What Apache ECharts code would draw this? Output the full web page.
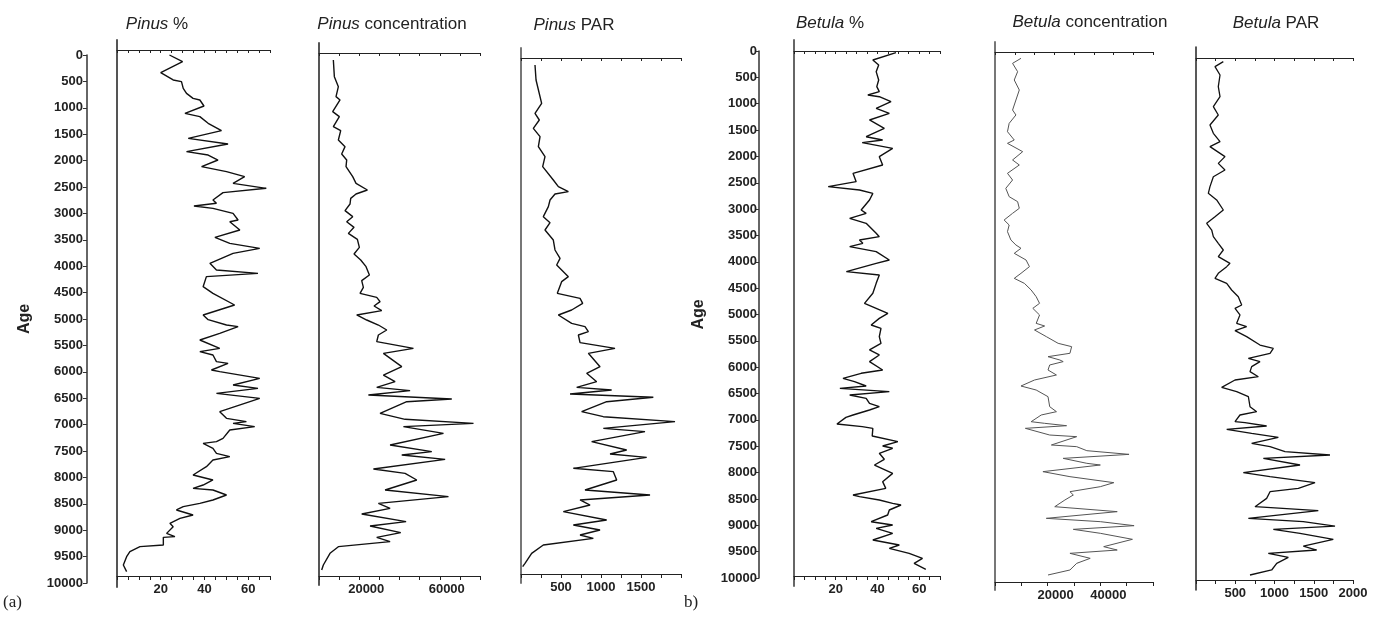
<!DOCTYPE html>
<html>
<head>
<meta charset="utf-8">
<script src="https://cdn.jsdelivr.net/npm/echarts@6/dist/echarts.min.js"></script>
<style>
  html, body { margin: 0; padding: 0; background: #fff; }
  #chart { width: 1383px; height: 617px; }
</style>
</head>
<body>
<div id="chart"></div>
<script>
// [age, value] pairs
const pinusPct = [[0,24],[126,30],[335,20],[473,25.7],[505,29.5],[631,30.3],[726,31.8],[821,34.8],[852,37.9],[966,39.8],[1105,31.1],[1168,37.9],[1294,41.7],[1433,47.8],[1578,32.6],[1686,50.8],[1831,31.8],[1894,41.7],[1989,46.2],[2115,38.7],[2210,50.1],[2304,58.4],[2431,53.1],[2525,68.3],[2607,48.5],[2746,43.9],[2809,45.5],[2860,35.2],[2904,43.9],[2999,53.1],[3125,55.4],[3157,51.6],[3314,56.2],[3453,44.8],[3567,51.6],[3662,65.3],[3756,53.1],[3946,42.5],[4072,45.5],[4135,64.5],[4198,40.9],[4388,39.4],[4514,43.9],[4735,53.8],[4924,39.4],[5013,41.7],[5114,50.1],[5145,55.4],[5271,47],[5398,37.9],[5556,47],[5619,37.9],[5682,43.9],[5808,45.5],[5840,50.8],[5966,43.2],[5997,47],[6124,65.3],[6250,53.1],[6313,64.5],[6408,45.5],[6503,65.3],[6755,47],[6881,50.1],[6944,59.2],[6976,53.1],[7039,63],[7102,51.6],[7260,48.5],[7323,45.5],[7355,39.4],[7449,43.9],[7544,45.5],[7607,51.6],[7670,43.9],[7797,40.9],[7955,34.8],[8049,43.9],[8144,39.4],[8207,34.8],[8239,43.9],[8333,50.1],[8428,43.9],[8491,37.9],[8554,30.3],[8617,27.2],[8712,34.8],[8775,28.8],[8870,24.2],[8933,25.7],[9060,22.7],[9122,26.5],[9135,21.2],[9280,21.2],[9312,10.5],[9407,5.9],[9501,4.4],[9659,2.9],[9785,4.4]];

const pinusConc = [[95,7130],[410,7630],[600,9620],[789,8460],[852,10450],[1073,6800],[1168,10110],[1357,7130],[1433,10780],[1610,9620],[1736,12930],[1875,11270],[1989,13760],[2115,13430],[2304,16750],[2431,18400],[2557,24040],[2633,18400],[2715,15750],[2822,15420],[2948,12930],[3062,16750],[3157,13760],[3264,17410],[3378,14590],[3491,19070],[3643,20060],[3769,17410],[3883,20730],[4009,23380],[4167,25040],[4274,21220],[4400,22050],[4514,20390],[4590,28680],[4672,30340],[4754,27360],[4842,31170],[4924,18740],[5019,23710],[5114,29510],[5208,33660],[5303,29510],[5429,28680],[5556,46920],[5650,32000],[5903,41120],[6061,32000],[6187,37800],[6294,28680],[6357,45260],[6439,24540],[6515,65990],[6566,43600],[6787,30340],[6900,42780],[6976,76770],[7039,41950],[7166,61840],[7386,35320],[7512,56040],[7576,41120],[7658,62670],[7841,27030],[7923,42780],[8049,48580],[8239,32830],[8365,64330],[8491,29510],[8586,35320],[8693,21220],[8838,43270],[8920,25370],[9047,40620],[9135,28680],[9217,35320],[9312,9620],[9438,5470],[9659,2160],[9754,1330]];

const pinusPar = [[189,175],[473,188],[915,258],[1105,175],[1231,229],[1389,154],[1547,238],[1736,217],[1926,300],[2115,271],[2367,404],[2494,467],[2588,592],[2633,425],[2746,363],[2872,342],[3062,279],[3176,363],[3314,300],[3504,404],[3693,425],[3851,488],[3977,446],[4198,592],[4293,508],[4514,454],[4609,738],[4703,771],[4830,633],[4924,467],[5082,633],[5145,800],[5240,842],[5303,717],[5448,738],[5556,1175],[5650,842],[5903,988],[6029,821],[6187,946],[6294,696],[6345,1133],[6420,613],[6483,1654],[6566,1071],[6755,758],[6850,1029],[6944,1925],[7071,1029],[7134,1550],[7323,883],[7481,1321],[7557,1113],[7620,1571],[7828,654],[7891,1154],[8049,1196],[8239,800],[8333,1613],[8428,738],[8523,863],[8649,529],[8807,1071],[8902,654],[8996,988],[9091,738],[9154,904],[9280,279],[9438,133],[9627,50],[9691,21]];

const betulaPct = [[32,48.9],[171,37.8],[266,40.6],[392,39.4],[550,40.6],[677,39.7],[772,40.9],[835,35.4],[867,40.9],[961,46.5],[1088,39.4],[1183,45.7],[1309,36.2],[1467,43.3],[1626,34.6],[1689,42.5],[1739,32.7],[1847,47.3],[2005,40.9],[2163,42.5],[2321,28.3],[2479,29.8],[2574,16.4],[2638,31.4],[2701,37.8],[2827,36.2],[3017,32.2],[3080,34.6],[3175,26.7],[3270,34.6],[3460,39.4],[3523,40.9],[3586,31.4],[3650,33],[3713,26.7],[3808,39.4],[3966,45.7],[4029,39.4],[4187,25.1],[4250,40.9],[4409,39.4],[4598,37.8],[4788,33.8],[4978,45],[5073,40.9],[5199,37],[5262,41.7],[5420,40.9],[5547,41.7],[5673,36.2],[5768,40.9],[5894,36.2],[6053,42.5],[6116,32.2],[6211,23.5],[6274,29],[6357,34.6],[6401,22],[6464,45.7],[6527,26.7],[6591,34.6],[6686,36.2],[6749,40.9],[6812,36.2],[6907,28.3],[6952,24.9],[7078,20.6],[7128,32.7],[7160,37.8],[7305,37.5],[7413,49.8],[7495,42.5],[7539,47.3],[7634,40.9],[7748,43.3],[7856,38.6],[8014,47.3],[8172,42.5],[8299,44],[8425,28.3],[8457,31.4],[8520,40.9],[8583,47.3],[8615,51.3],[8710,45.7],[8805,44.9],[8932,37],[8995,47.3],[9058,39.4],[9153,47.3],[9279,37.8],[9374,50.5],[9437,45.7],[9532,55.2],[9627,61.6],[9722,57.6],[9835,63.2]];

const betulaConc = [[139,9870],[234,6670],[392,8590],[550,7310],[740,9230],[930,7950],[1120,6670],[1214,7950],[1373,5380],[1531,4740],[1689,7310],[1752,4740],[1910,10510],[2068,6670],[2163,9230],[2321,4740],[2448,6670],[2606,4100],[2764,5380],[2859,8590],[2985,9230],[3080,6670],[3207,3460],[3302,5380],[3428,4740],[3586,6030],[3681,7950],[3744,9870],[3839,7310],[3966,11790],[4092,13080],[4219,9870],[4314,7310],[4409,11150],[4535,13720],[4662,15640],[4788,16920],[4883,14360],[5009,16920],[5168,15640],[5218,18850],[5294,15000],[5420,19490],[5547,23970],[5610,29100],[5736,28460],[5800,20130],[5863,24610],[5894,25890],[5958,20770],[6053,20130],[6148,23330],[6243,15000],[6357,9870],[6433,15640],[6559,20130],[6749,20770],[6844,23330],[6907,17560],[7034,13720],[7065,18850],[7110,27180],[7160,11540],[7287,20770],[7318,31020],[7476,21410],[7508,31020],[7584,34870],[7654,50900],[7730,25890],[7824,34870],[7856,40000],[7982,18200],[8077,28460],[8191,45130],[8267,40000],[8362,28460],[8425,29740],[8520,26540],[8647,22690],[8741,46410],[8868,19490],[8931,40000],[9007,52820],[9077,29740],[9152,40000],[9266,52180],[9405,41280],[9469,46410],[9532,28460],[9627,36150],[9722,31020],[9848,28460],[9943,20130]];

const betulaPar = [[202,348],[297,242],[455,306],[677,284],[867,306],[1056,221],[1214,284],[1404,178],[1562,221],[1720,306],[1815,178],[2005,369],[2132,284],[2258,369],[2385,221],[2574,178],[2701,157],[2827,263],[3017,348],[3144,242],[3270,136],[3397,200],[3523,221],[3650,284],[3776,348],[3903,284],[4029,433],[4092,391],[4219,284],[4314,242],[4409,391],[4535,454],[4662,539],[4820,582],[4883,497],[5009,560],[5168,518],[5231,645],[5307,497],[5420,645],[5579,815],[5642,985],[5736,943],[5831,667],[5894,815],[5989,709],[6085,688],[6180,794],[6243,497],[6382,327],[6464,518],[6559,667],[6749,688],[6844,773],[6907,560],[7034,497],[7053,624],[7116,900],[7179,391],[7255,709],[7331,1049],[7445,709],[7508,943],[7603,1134],[7666,1707],[7729,858],[7856,1325],[8001,603],[8077,943],[8191,1516],[8299,1304],[8362,943],[8489,900],[8647,752],[8723,1558],[8868,667],[8931,1367],[9014,1771],[9077,985],[9153,1325],[9267,1749],[9393,1367],[9469,1537],[9532,921],[9608,1176],[9722,1028],[9848,964],[9943,688]];

const ageTicks = { min: 0, max: 10000, interval: 500 };

(function () {
    var chart = echarts.init(document.getElementById('chart'));
    var FONT = '"Liberation Sans", Arial, sans-serif';

    // age scale: pixel rows of age 0 and age 10000 on each side
    var sides = {
        pinus: { x: 87, y0: 55, y1: 583, labelMargin: 4, nameGap: 54 },
        betula: { x: 759, y0: 51, y1: 578, labelMargin: 2, nameGap: 52 }
    };

    var panels = [
        { side: 'pinus', title: 'Pinus', rest: ' %', tx: 157, ty: 24, data: pinusPct,
          left: 117, right: 270, vt: 40, vb: 587, ta: 50, ba: 576,
          max: 70, interval: 5, labels: [20, 40, 60], lineColor: '#555', lineW: 2, color: '#111', w: 1.4 },
        { side: 'pinus', title: 'Pinus', rest: ' concentration', tx: 392, ty: 24, data: pinusConc,
          left: 319, right: 480, vt: 43, vb: 585, ta: 53, ba: 576,
          max: 80000, interval: 10000, labels: [20000, 60000], shift: 14, lineColor: '#555', lineW: 2, color: '#111', w: 1.4 },
        { side: 'pinus', title: 'Pinus', rest: ' PAR', tx: 574, ty: 25, data: pinusPar,
          left: 521, right: 681, vt: 48, vb: 583, ta: 58, ba: 574,
          max: 2000, interval: 250, labels: [500, 1000, 1500], lineColor: '#777', lineW: 2, color: '#111', w: 1.4 },
        { side: 'betula', title: 'Betula', rest: ' %', tx: 830, ty: 23, data: betulaPct,
          left: 794, right: 940, vt: 40, vb: 586, ta: 51, ba: 576,
          max: 70, interval: 5, labels: [20, 40, 60], lineColor: '#666', lineW: 2, color: '#111', w: 1.4 },
        { side: 'betula', title: 'Betula', rest: ' concentration', tx: 1090, ty: 22, data: betulaConc,
          left: 995, right: 1153, vt: 42, vb: 590, ta: 52, ba: 582,
          max: 60000, topMax: 80000, interval: 10000, labels: [20000, 40000], shift: 16, lineColor: '#777', lineW: 2, color: '#555', w: 1 },
        { side: 'betula', title: 'Betula', rest: ' PAR', tx: 1276, ty: 23, data: betulaPar,
          left: 1196, right: 1353, vt: 47, vb: 590, ta: 58, ba: 580,
          max: 2000, interval: 250, labels: [500, 1000, 1500, 2000], lineColor: '#222', lineW: 1.5, color: '#111', w: 1.3 }
    ];

    var grid = [], xAxis = [], yAxis = [], series = [], graphic = [];
    var lab = { color: '#222', fontFamily: FONT, fontSize: 13, fontWeight: 'bold' };

    // two age axes
    ['pinus', 'betula'].forEach(function (k) {
        var s = sides[k];
        var gi = grid.length;
        grid.push({ left: s.x, width: 1, top: s.y0, height: s.y1 - s.y0 });
        xAxis.push({ gridIndex: gi, type: 'value', show: false });
        yAxis.push({
            gridIndex: gi, type: 'value', inverse: true, position: 'left',
            min: ageTicks.min, max: ageTicks.max, interval: ageTicks.interval,
            name: 'Age', nameLocation: 'middle', nameRotate: 90, nameGap: s.nameGap,
            nameTextStyle: { color: '#222', fontFamily: FONT, fontSize: 16, fontWeight: 'bold' },
            axisLine: { show: true, lineStyle: { color: '#333', width: 1.5 } },
            axisTick: { show: true, length: 4, lineStyle: { color: '#333' } },
            axisLabel: Object.assign({ margin: s.labelMargin, formatter: function (v) { return String(v); } }, lab),
            splitLine: { show: false }
        });
    });

    panels.forEach(function (p) {
        var s = sides[p.side];
        var gi = grid.length;
        var span = s.y1 - s.y0;
        grid.push({ left: p.left, width: p.right - p.left, top: p.vt, height: p.vb - p.vt });
        var common = {
            gridIndex: gi, type: 'value', min: 0, interval: p.interval,
            axisLine: { show: true, onZero: false, lineStyle: { color: '#222', width: 1.2 } },
            splitLine: { show: false }
        };
        xAxis.push(Object.assign({}, common, {
            position: 'top', max: p.topMax || p.max, offset: -(p.ta - p.vt),
            axisTick: { show: true, inside: true, length: 3, lineStyle: { color: '#222' } },
            axisLabel: { show: false }
        }));
        var bottomIndex = xAxis.length;
        xAxis.push(Object.assign({}, common, {
            position: 'bottom', max: p.max, offset: -(p.vb - p.ba),
            axisTick: { show: true, inside: false, length: 4, lineStyle: { color: '#222' } },
            axisLabel: Object.assign({
                margin: 7,
                padding: p.shift ? [0, 0, 0, p.shift] : 0,
                showMinLabel: true, showMaxLabel: true,
                formatter: (function (keep) {
                    return function (v) { return keep.indexOf(v) >= 0 ? String(v) : ''; };
                })(p.labels)
            }, lab)
        }));
        yAxis.push({
            gridIndex: gi, type: 'value', inverse: true,
            min: (p.vt - s.y0) / span * 10000, max: (p.vb - s.y0) / span * 10000,
            axisLine: { show: true, lineStyle: { color: p.lineColor, width: p.lineW } },
            axisTick: { show: false }, axisLabel: { show: false }, splitLine: { show: false }
        });
        series.push({
            type: 'line', xAxisIndex: bottomIndex, yAxisIndex: gi,
            showSymbol: false, symbol: 'none', silent: true,
            lineStyle: { color: p.color, width: p.w },
            data: p.data.map(function (d) { return [d[1], d[0]]; })
        });
        graphic.push({
            type: 'text', x: p.tx, y: p.ty,
            style: {
                text: '{i|' + p.title + '}' + p.rest,
                align: 'center', verticalAlign: 'middle',
                font: '17px ' + FONT, fill: '#222',
                rich: { i: { fontStyle: 'italic', fontSize: 17, fontFamily: FONT, fill: '#222' } }
            }
        });
    });

    graphic.push({ type: 'text', x: 3, y: 603, style: { text: '(a)', verticalAlign: 'middle', font: '17px "Liberation Serif", "DejaVu Serif", serif', fill: '#222' } });
    graphic.push({ type: 'text', x: 684, y: 603, style: { text: 'b)', verticalAlign: 'middle', font: '17px "Liberation Serif", "DejaVu Serif", serif', fill: '#222' } });

    chart.setOption({
        animation: false,
        backgroundColor: '#fff',
        grid: grid,
        xAxis: xAxis,
        yAxis: yAxis,
        series: series,
        graphic: { elements: graphic }
    });
})();
</script>
</body>
</html>
